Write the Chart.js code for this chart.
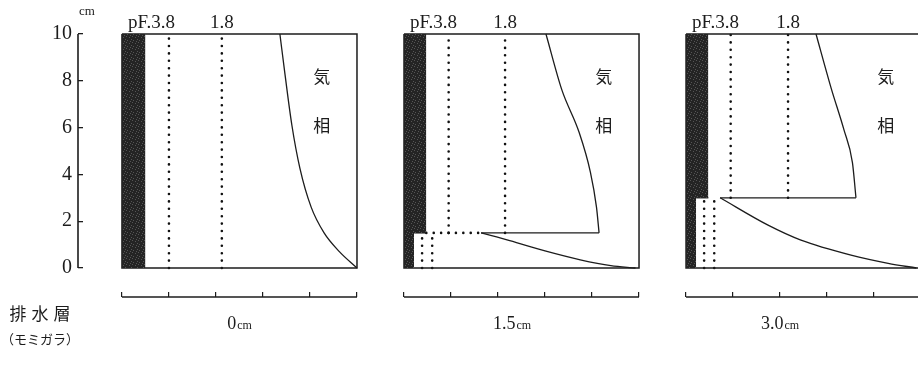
<!DOCTYPE html>
<html><head><meta charset="utf-8">
<script src="https://cdn.jsdelivr.net/npm/chart.js@4.4.0/dist/chart.umd.min.js"></script>
<style>html,body{margin:0;padding:0;background:#fff;overflow:hidden;width:918px;height:378px}canvas{display:block}</style>
</head><body>
<canvas id="c" width="930" height="378"></canvas>
<script>
// ---------- data ----------
const panelNames = ['0', '1.5', '3.0'];          // drainage layer (rice husk) thickness, cm
const drainDepth = [0, 1.5, 3.0];                // cm
const solidWidth = [10, 9.5, 9.5];               // solid phase above drainage layer (%)
const drainSolidWidth = [0, 4.3, 4.3];           // solid phase inside drainage layer (%)
const pf38Line = [20, 19, 19];                   // pF 3.8 boundary
const pf18Line = [42.5, 43, 43.4];               // pF 1.8 boundary
const drainPf38 = [null, 7.7, 7.7];
const drainPf18 = [null, 12, 12];
const drainDotted = [null, [9.5, 32.8], null];   // dotted top of drainage layer
const airUpper = [
  [[67.2,10],[69.4,8.25],[72.3,6.1],[75.7,4.27],[80.5,2.6],[86,1.5],[92.5,0.7],[100,0]],
  [[60.4,10],[67.2,7.6],[74.5,5.8],[79.3,4.1],[81.9,2.6],[83,1.5]],
  [[55.3,10],[61.7,7.7],[67.2,5.9],[70.8,4.5],[72.3,3.0]]
];
const airLower = [
  [],
  [[32.8,1.5],[45,1.17],[60,0.73],[75,0.35],[88,0.1],[98.5,0]],
  [[14.5,3.0],[34.9,1.83],[48.9,1.19],[70.2,0.55],[86,0.2],[98,0]]
];
const yTicks = [0, 2, 4, 6, 8, 10];
const xTicks = [0, 20, 40, 60, 80, 100];
const topLabels = ['pF.3.8', '1.8'];
const airLabel = ['気', '相'];
const rowLabel = ['排', '水', '層'];
const rowSub = '（モミガラ）';

// ---------- layout ----------
const panelStep = 120, xMin = -18.7, xMax = 343.8, yMin = -1.24, yMax = 10;
const labelX = [50, 46, 40];
const ink = '#1c1c1c';

// dark stipple pattern
function makePattern() {
  const c = document.createElement('canvas'); c.width = 6; c.height = 6;
  const g = c.getContext('2d');
  g.fillStyle = '#242424'; g.fillRect(0, 0, 6, 6);
  g.fillStyle = '#555555';
  [[0,0],[3,1],[5,3],[1,4],[4,5]].forEach(([a,b]) => g.fillRect(a, b, 1, 1));
  return g.createPattern(c, 'repeat');
}
const pat = makePattern();

const ds = [];
function add(pts, opt) {
  ds.push(Object.assign({
    data: pts.map(([x, y]) => ({x, y})), showLine: true, pointRadius: 0,
    borderColor: ink, borderWidth: 1.4, fill: false, clip: false, tension: 0
  }, opt || {}));
}
const dotted = {borderDash: [0, 7.4], borderCapStyle: 'round', borderWidth: 2.6, borderColor: '#111'};
const curve = {cubicInterpolationMode: 'monotone', borderWidth: 1.3};

panelNames.forEach((n, p) => {
  const o = p * panelStep, d = drainDepth[p];
  // solid phase (dark band)
  if (d > 0) add([[o, yMax], [o + drainSolidWidth[p], yMax]], {fill: {value: 0}, backgroundColor: pat, borderWidth: 0});
  add([[o, yMax], [o + solidWidth[p], yMax]], {fill: {value: d}, backgroundColor: pat, borderWidth: 0});
  // frame
  add([[o, 10], [o + 100, 10], [o + 100, 0], [o, 0], [o, 10]], {borderWidth: 1.5});
  // pF boundaries
  add([[o + pf38Line[p], d], [o + pf38Line[p], 10]], dotted);
  add([[o + pf18Line[p], d], [o + pf18Line[p], 10]], dotted);
  if (d > 0) {
    add([[o + drainPf38[p], 0], [o + drainPf38[p], d]], dotted);
    add([[o + drainPf18[p], 0], [o + drainPf18[p], d]], dotted);
    add([[o + drainSolidWidth[p], d], [o + solidWidth[p], d]], {borderWidth: 1.3});
    add([[o + airLower[p][0][0], d], [o + airUpper[p][airUpper[p].length - 1][0], d]], {borderWidth: 1.3});
    add(airLower[p].map(([x, y]) => [o + x, y]), curve);
    if (drainDotted[p]) add([[o + drainDotted[p][0], d], [o + drainDotted[p][1], d]], dotted);
  }
  add(airUpper[p].map(([x, y]) => [o + x, y]), curve);
  // bottom scale line
  add([[o, yMin], [o + 100, yMin]], {borderWidth: 1.4});
});
// y axis line
add([[xMin, 0], [xMin, 10]], {borderWidth: 1.6});

const textPlugin = {
  id: 'texts',
  afterDraw(chart) {
    const {ctx, scales: {x, y}} = chart;
    ctx.save();
    ctx.fillStyle = ink;
    ctx.textBaseline = 'alphabetic';
    ctx.font = '13px "Liberation Serif"';
    ctx.textAlign = 'center';
    ctx.fillText('cm', x.getPixelForValue(xMin) + 9, y.getPixelForValue(10) - 19);
    panelNames.forEach((n, p) => {
      const o = p * panelStep;
      const top = y.getPixelForValue(10) - 6;
      ctx.font = '19px "Liberation Serif"';
      ctx.textAlign = 'left';
      ctx.fillText(topLabels[0], x.getPixelForValue(o) + 6, top);
      ctx.textAlign = 'center';
      ctx.fillText(topLabels[1], x.getPixelForValue(o + pf18Line[p]), top);
      ctx.font = '17px "Noto Sans CJK JP"';
      ctx.textBaseline = 'middle';
      ctx.fillText(airLabel[0], x.getPixelForValue(o + 85), y.getPixelForValue(8.2));
      ctx.fillText(airLabel[1], x.getPixelForValue(o + 85), y.getPixelForValue(6.1));
      ctx.textBaseline = 'alphabetic';
      ctx.font = '18px "Liberation Serif"';
      const w1 = ctx.measureText(n).width;
      ctx.font = '12px "Liberation Serif"';
      const w2 = ctx.measureText('cm').width;
      const cx = x.getPixelForValue(o + labelX[p]);
      const sx = cx - (w1 + w2 + 1) / 2;
      ctx.textAlign = 'left';
      ctx.font = '18px "Liberation Serif"';
      ctx.fillText(n, sx, 329);
      ctx.font = '12px "Liberation Serif"';
      ctx.fillText('cm', sx + w1 + 1, 329);
    });
    ctx.font = '17px "Noto Sans CJK JP"';
    ctx.textAlign = 'center';
    ctx.textBaseline = 'middle';
    rowLabel.forEach((ch, i) => ctx.fillText(ch, 18 + i * 22, 314));
    ctx.font = '13px "Noto Sans CJK JP"';
    ctx.fillText(rowSub, 40, 339);
    ctx.restore();
  }
};

new Chart(document.getElementById('c'), {
  type: 'scatter',
  data: {datasets: ds},
  plugins: [textPlugin],
  options: {
    responsive: false, animation: false, events: [],
    layout: {padding: {top: 34, left: 0, right: 0, bottom: 0}},
    plugins: {legend: {display: false}, tooltip: {enabled: false}},
    scales: {
      x: {
        type: 'linear', min: xMin, max: xMax, bounds: 'data',
        afterBuildTicks: s => {
          const t = [];
          panelNames.forEach((n, p) => xTicks.forEach(v => t.push({value: p * panelStep + v})));
          s.ticks = t;
        },
        afterFit: s => { s.height = 378 - 297; },
        grid: {drawOnChartArea: false, drawTicks: true, tickLength: -5, color: ink, lineWidth: 1.2},
        border: {display: false},
        ticks: {display: false}
      },
      y: {
        type: 'linear', min: yMin, max: yMax, bounds: 'data',
        afterBuildTicks: s => { s.ticks = yTicks.map(v => ({value: v})); },
        afterFit: s => { s.width = 78; },
        grid: {drawOnChartArea: false, drawTicks: true, tickLength: -5, color: ink, lineWidth: 1.3},
        border: {display: false},
        ticks: {padding: 11, color: ink, font: {family: 'Liberation Serif', size: 20}}
      }
    }
  }
});
</script>
</body></html>
